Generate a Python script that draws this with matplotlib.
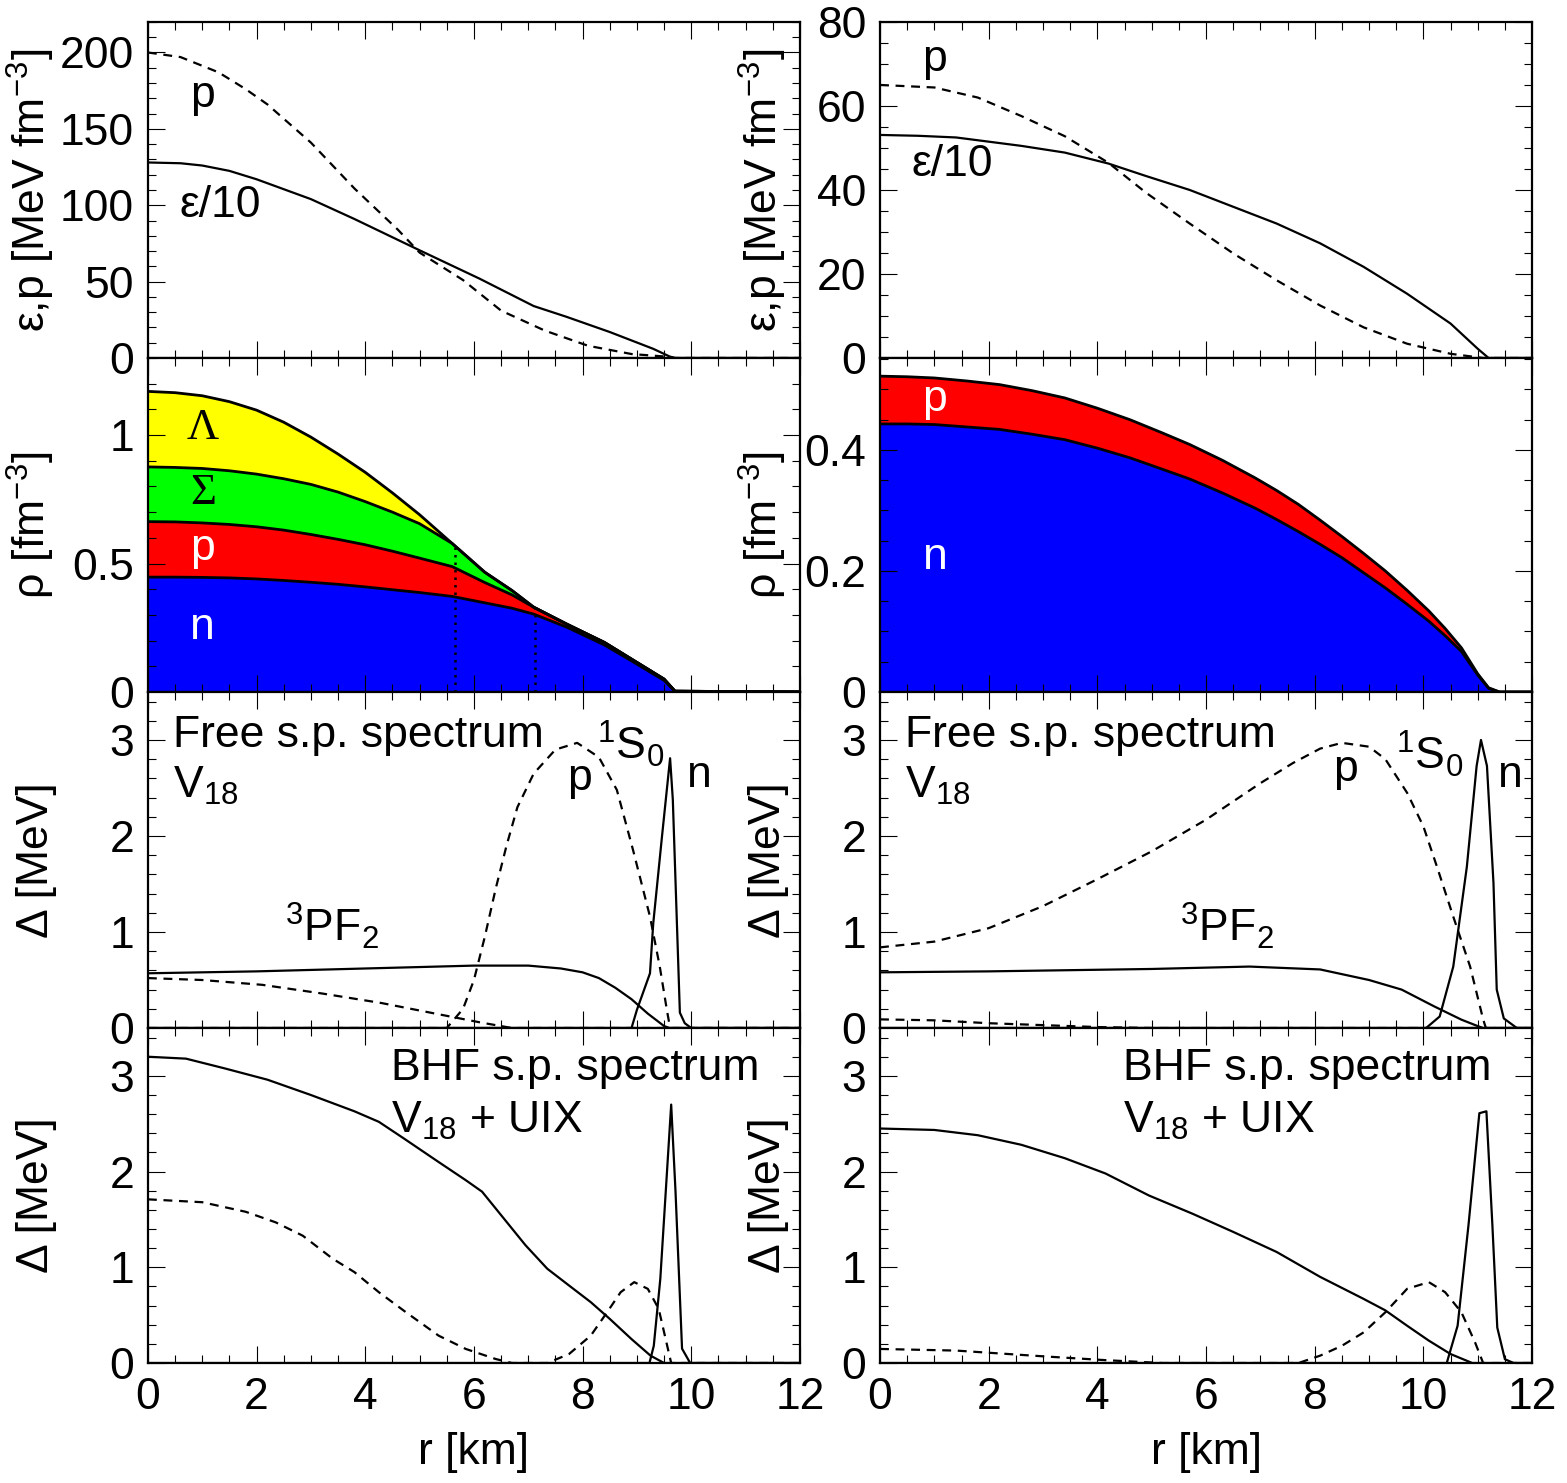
import numpy as np
import matplotlib.pyplot as plt
from matplotlib.ticker import MultipleLocator, FormatStrFormatter

plt.rcParams['font.family'] = ['Liberation Sans', 'DejaVu Sans']
plt.rcParams['mathtext.fontset'] = 'custom'
plt.rcParams['mathtext.rm'] = 'Liberation Sans'
plt.rcParams['mathtext.default'] = 'regular'

FS = 32
DASH = (0, (4, 3))

# ---- row 1: energy density / pressure ----
r_eps_L = [0, 0.6, 1.0, 1.5, 2.0, 3.0, 3.8, 5.0, 6.1, 7.1, 7.7, 8.5, 9.3, 9.6, 9.7, 12]
eps_L = [128, 127.5, 126, 122.5, 117, 104, 91, 70.5, 52, 34, 27, 17, 6, 1, 0, 0]
r_p_L = [0, 0.6, 1.3, 1.8, 2.2, 3.0, 3.8, 4.6, 5.0, 5.8, 6.5, 7.3, 8.1, 8.9, 9.5, 9.7, 12]
p_L = [200, 197, 187, 176, 166, 141, 111, 84, 69, 51, 31, 18, 8, 2.6, 1, 0, 0]

r_eps_R = [0, 0.7, 1.4, 2.6, 3.4, 4.2, 4.9, 5.7, 6.5, 7.3, 8.1, 8.9, 9.7, 10.5, 11.0, 11.2, 12]
eps_R = [53.1, 52.9, 52.5, 50.5, 48.9, 46.3, 43.3, 40, 36, 32, 27.3, 21.7, 15.3, 8.2, 2.2, 0, 0]
r_p_R = [0, 1.0, 1.8, 2.6, 3.4, 4.2, 4.9, 5.7, 6.5, 7.3, 8.1, 8.9, 9.7, 10.5, 11.1, 12]
p_R = [65, 64.4, 62, 57.6, 52.8, 46.5, 39.3, 32, 24.9, 18.5, 12.5, 7.3, 3.4, 1, 0, 0]

# ---- row 2: stacked densities ----
r_rho_L = [0, 0.5, 1, 1.5, 2, 2.5, 3, 3.5, 4, 4.5, 5, 5.6, 6.2, 6.7, 7.1, 7.7, 8.4, 8.9, 9.3, 9.5, 9.7, 12]
rho_tot_L = [1.17, 1.165, 1.153, 1.13, 1.097, 1.05, 0.992, 0.926, 0.855, 0.775, 0.69, 0.578, 0.466, 0.395,
             0.33, 0.265, 0.193, 0.128, 0.076, 0.05, 0.003, 0]
rho_nps_L = [0.876, 0.874, 0.870, 0.861, 0.848, 0.83, 0.808, 0.778, 0.741, 0.70, 0.655, 0.578, 0.466, 0.395,
             0.33, 0.265, 0.193, 0.128, 0.076, 0.05, 0.003, 0]
rho_np_L = [0.663, 0.662, 0.658, 0.652, 0.643, 0.63, 0.613, 0.594, 0.573, 0.548, 0.521, 0.488, 0.426, 0.378,
            0.33, 0.265, 0.193, 0.128, 0.076, 0.05, 0.003, 0]
rho_n_L = [0.447, 0.447, 0.446, 0.444, 0.440, 0.434, 0.427, 0.419, 0.409, 0.398, 0.387, 0.372, 0.347, 0.326,
           0.303, 0.253, 0.183, 0.121, 0.07, 0.045, 0.003, 0]
thresholds_L = [5.65, 7.12]

r_rho_R = [0, 0.5, 1, 1.6, 2.2, 2.8, 3.4, 4.0, 4.6, 5.2, 5.7, 6.3, 6.9, 7.3, 7.7, 8.1, 8.5, 8.9, 9.3, 9.7,
           10.1, 10.4, 10.7, 11.0, 11.2, 11.4, 12]
rho_tot_R = [0.522, 0.521, 0.519, 0.514, 0.508, 0.498, 0.486, 0.469, 0.45, 0.428, 0.409, 0.383, 0.354, 0.333,
             0.31, 0.284, 0.257, 0.229, 0.2, 0.168, 0.134, 0.105, 0.073, 0.03, 0.007, 0, 0]
rho_n_R = [0.443, 0.443, 0.442, 0.438, 0.434, 0.426, 0.417, 0.403, 0.387, 0.368, 0.352, 0.329, 0.304, 0.285,
           0.265, 0.244, 0.222, 0.197, 0.172, 0.145, 0.117, 0.093, 0.067, 0.028, 0.006, 0, 0]

# ---- row 3: gaps, free s.p. spectrum ----
r_s0p_L = [0, 5.5, 5.8, 6.0, 6.2, 6.4, 6.6, 6.8, 7.1, 7.5, 7.9, 8.3, 8.63, 8.93, 9.24, 9.42, 9.55, 9.61, 12]
s0p_L = [0, 0, 0.2, 0.5, 0.95, 1.45, 1.9, 2.3, 2.65, 2.9, 2.97, 2.82, 2.48, 1.85, 1.16, 0.64, 0.19, 0, 0]
r_pfp_L = [0, 1.0, 2.1, 3.2, 4.3, 5.2, 6.1, 6.7, 12]
pfp_L = [0.52, 0.50, 0.45, 0.36, 0.26, 0.16, 0.06, 0, 0]
r_pfn_L = [0, 2, 4, 6, 7.0, 7.6, 8.0, 8.3, 8.6, 8.9, 9.2, 9.5, 9.6, 12]
pfn_L = [0.57, 0.59, 0.62, 0.65, 0.65, 0.62, 0.58, 0.52, 0.42, 0.30, 0.15, 0.02, 0, 0]
r_s0n_L = [0, 8.9, 9.0, 9.24, 9.3, 9.46, 9.61, 9.66, 9.79, 9.88, 10.0, 12]
s0n_L = [0, 0, 0.19, 0.57, 1.09, 1.99, 2.81, 2.38, 0.16, 0.05, 0, 0]

r_s0p_R = [0, 1, 2, 3, 4, 5, 6, 7, 7.6, 8.1, 8.5, 9.0, 9.3, 9.7, 10.0, 10.25, 10.55, 10.86, 11.1, 11.15, 12]
s0p_R = [0.84, 0.9, 1.04, 1.27, 1.55, 1.84, 2.17, 2.55, 2.76, 2.91, 2.97, 2.93, 2.80, 2.45, 2.1, 1.68, 1.16,
         0.64, 0.09, 0, 0]
r_pfp_R = [0, 1, 2, 3, 4, 5, 12]
pfp_R = [0.09, 0.08, 0.05, 0.03, 0.01, 0, 0]
r_pfn_R = [0, 2, 5.0, 6.8, 8.1, 9.0, 9.6, 10.2, 10.7, 11.0, 11.1, 12]
pfn_R = [0.58, 0.59, 0.615, 0.64, 0.61, 0.50, 0.40, 0.225, 0.087, 0.02, 0, 0]
r_s0n_R = [0, 10.05, 10.3, 10.55, 10.8, 10.98, 11.06, 11.17, 11.29, 11.35, 11.48, 11.72, 12]
s0n_R = [0, 0, 0.12, 0.64, 1.68, 2.73, 3.0, 2.73, 1.51, 0.40, 0.10, 0, 0]

# ---- row 4: gaps, BHF s.p. spectrum ----
r_pfn4_L = [0, 0.7, 1.4, 2.2, 3.0, 3.8, 4.25, 4.7, 5.35, 5.85, 6.15, 6.55, 6.95, 7.35, 7.75, 8.15, 8.5,
            8.9, 9.25, 9.5, 12]
pfn4_L = [3.2, 3.18, 3.08, 2.96, 2.80, 2.63, 2.52, 2.35, 2.10, 1.91, 1.79, 1.51, 1.23, 0.985, 0.81, 0.636,
          0.461, 0.25, 0.077, 0, 0]
r_pfp4_L = [0, 1.0, 1.8, 2.35, 2.85, 3.4, 3.8, 4.25, 4.75, 5.35, 5.85, 6.4, 6.7, 7.35, 7.75, 8.15, 8.45,
            8.7, 8.95, 9.2, 9.4, 9.5, 9.63, 12]
pfp4_L = [1.71, 1.68, 1.58, 1.47, 1.33, 1.09, 0.95, 0.74, 0.53, 0.286, 0.147, 0.042, 0, 0, 0.094, 0.286,
          0.53, 0.74, 0.845, 0.775, 0.566, 0.32, 0, 0]
r_s0n4_L = [0, 9.23, 9.31, 9.43, 9.63, 9.71, 9.83, 9.98, 12]
s0n4_L = [0, 0, 0.18, 0.88, 2.70, 1.79, 0.15, 0, 0]

r_pfn4_R = [0, 1.0, 1.8, 2.6, 3.4, 4.15, 4.95, 5.75, 6.5, 7.3, 8.1, 8.9, 9.3, 9.7, 10.1, 10.5, 10.9, 12]
pfn4_R = [2.45, 2.435, 2.38, 2.28, 2.14, 1.98, 1.75, 1.56, 1.37, 1.16, 0.90, 0.67, 0.55, 0.39, 0.234,
          0.094, 0, 0]
r_pfp4_R = [0, 1.4, 3.0, 4.15, 4.95, 5.2, 7.7, 8.1, 8.5, 8.9, 9.3, 9.7, 10.1, 10.4, 10.7, 10.95, 11.1, 12]
pfp4_R = [0.147, 0.13, 0.07, 0.03, 0.007, 0, 0, 0.077, 0.18, 0.32, 0.53, 0.775, 0.845, 0.74, 0.53, 0.217,
          0, 0]
r_s0n4_R = [0, 10.43, 10.63, 10.83, 11.03, 11.16, 11.27, 11.36, 11.5, 11.66, 12]
s0n4_R = [0, 0, 0.39, 1.44, 2.61, 2.63, 1.44, 0.37, 0.04, 0, 0]

ylims = [(220, 80), (1.3, 0.552), (3.5, 3.5), (3.5, 3.5)]
ymajor = [(50, 20), (0.5, 0.2), (1, 1), (1, 1)]
yminor = [(10, 5), (0.1, 0.05), (0.2, 0.2), (0.2, 0.2)]
ylabels = ['ε,p [MeV fm$^{-3}$]', 'ρ [fm$^{-3}$]', 'Δ [MeV]', 'Δ [MeV]']

fig = plt.figure(figsize=(15.67, 14.83), dpi=100)
lefts = [0.0944, 0.5616]
width = 0.4161
bottoms = [0.7586, 0.5334, 0.3068, 0.0809]
heights = [0.2266, 0.2252, 0.2266, 0.2259]

axes = [[None, None] for _ in range(4)]
for i in range(4):
    for j in range(2):
        ax = fig.add_axes([lefts[j], bottoms[i], width, heights[i]])
        ax.set_xlim(0, 12)
        ax.set_ylim(0, ylims[i][j])
        ax.xaxis.set_major_locator(MultipleLocator(2))
        ax.xaxis.set_minor_locator(MultipleLocator(0.5))
        ax.yaxis.set_major_locator(MultipleLocator(ymajor[i][j]))
        ax.yaxis.set_minor_locator(MultipleLocator(yminor[i][j]))
        ax.yaxis.set_major_formatter(FormatStrFormatter('%g'))
        ax.tick_params(which='both', direction='in', top=True, right=True,
                       labelsize=FS, width=0.8)
        ax.tick_params(which='major', length=12, pad=10)
        ax.tick_params(which='minor', length=6)
        for s in ax.spines.values():
            s.set_linewidth(1.6)
        ax.set_ylabel(ylabels[i], fontsize=FS)
        ax.yaxis.set_label_coords(-0.14, 0.5)
        if i < 3:
            ax.tick_params(labelbottom=False)
        else:
            ax.set_xlabel('r [km]', fontsize=FS)
            ax.xaxis.set_label_coords(0.5, -0.205)
        axes[i][j] = ax

lw = 1.6
k = dict(color='black', lw=lw)

# row 1
ax = axes[0][0]
ax.plot(r_eps_L, eps_L, **k)
ax.plot(r_p_L, p_L, ls=DASH, **k)
ax.text(1.01, 172, 'p', fontsize=FS, ha='center', va='center')
ax.text(1.33, 100, 'ε/10', fontsize=FS, ha='center', va='center')
ax = axes[0][1]
ax.plot(r_eps_R, eps_R, **k)
ax.plot(r_p_R, p_R, ls=DASH, **k)
ax.text(1.01, 71, 'p', fontsize=FS, ha='center', va='center')
ax.text(1.33, 46, 'ε/10', fontsize=FS, ha='center', va='center')

# row 2
ax = axes[1][0]
for y, c in [(rho_tot_L, '#ffff00'), (rho_nps_L, '#00ff00'), (rho_np_L, '#ff0000'), (rho_n_L, '#0000ff')]:
    ax.fill_between(r_rho_L, 0, y, color=c, lw=0)
for y in [rho_tot_L, rho_nps_L, rho_np_L, rho_n_L]:
    ax.plot(r_rho_L, y, color='black', lw=2)
for t in thresholds_L:
    ax.vlines(t, 0, np.interp(t, r_rho_L, rho_tot_L), colors='black', linestyles=(0, (1, 2)), lw=1.8)
ax.text(1.01, 1.027, 'Λ', fontsize=FS, ha='center', va='center', family='Liberation Serif')
ax.text(1.01, 0.774, 'Σ', fontsize=FS, ha='center', va='center', family='Liberation Serif')
ax.text(1.01, 0.56, 'p', fontsize=FS, ha='center', va='center', color='white')
ax.text(1.01, 0.249, 'n', fontsize=FS, ha='center', va='center', color='white')
ax = axes[1][1]
for y, c in [(rho_tot_R, '#ff0000'), (rho_n_R, '#0000ff')]:
    ax.fill_between(r_rho_R, 0, y, color=c, lw=0)
for y in [rho_tot_R, rho_n_R]:
    ax.plot(r_rho_R, y, color='black', lw=2)
ax.text(1.01, 0.483, 'p', fontsize=FS, ha='center', va='center', color='white')
ax.text(1.01, 0.223, 'n', fontsize=FS, ha='center', va='center', color='white')

# row 3
ax = axes[2][0]
ax.plot(r_s0p_L, s0p_L, ls=DASH, **k)
ax.plot(r_pfp_L, pfp_L, ls=DASH, **k)
ax.plot(r_pfn_L, pfn_L, **k)
ax.plot(r_s0n_L, s0n_L, **k)
ax.text(0.46, 2.93, 'Free s.p. spectrum', fontsize=FS, ha='left', va='baseline')
ax.text(0.46, 2.40, 'V$_{18}$', fontsize=FS, ha='left', va='baseline')
ax.text(2.52, 0.90, '$^{3}$PF$_{2}$', fontsize=FS, ha='left', va='baseline')
ax.text(8.26, 2.80, '$^{1}$S$_{0}$', fontsize=FS, ha='left', va='baseline')
ax.text(7.95, 2.48, 'p', fontsize=FS, ha='center', va='baseline')
ax.text(10.14, 2.51, 'n', fontsize=FS, ha='center', va='baseline')
ax = axes[2][1]
ax.plot(r_s0p_R, s0p_R, ls=DASH, **k)
ax.plot(r_pfp_R, pfp_R, ls=DASH, **k)
ax.plot(r_pfn_R, pfn_R, **k)
ax.plot(r_s0n_R, s0n_R, **k)
ax.text(0.46, 2.93, 'Free s.p. spectrum', fontsize=FS, ha='left', va='baseline')
ax.text(0.46, 2.40, 'V$_{18}$', fontsize=FS, ha='left', va='baseline')
ax.text(5.52, 0.90, '$^{3}$PF$_{2}$', fontsize=FS, ha='left', va='baseline')
ax.text(9.49, 2.69, '$^{1}$S$_{0}$', fontsize=FS, ha='left', va='baseline')
ax.text(8.56, 2.57, 'p', fontsize=FS, ha='center', va='baseline')
ax.text(11.61, 2.51, 'n', fontsize=FS, ha='center', va='baseline')

# row 4
for j, (rn, n, rp, p, rs, s) in enumerate([
        (r_pfn4_L, pfn4_L, r_pfp4_L, pfp4_L, r_s0n4_L, s0n4_L),
        (r_pfn4_R, pfn4_R, r_pfp4_R, pfp4_R, r_s0n4_R, s0n4_R)]):
    ax = axes[3][j]
    ax.plot(rn, n, **k)
    ax.plot(rp, p, ls=DASH, **k)
    ax.plot(rs, s, **k)
    ax.text(4.47, 2.96, 'BHF s.p. spectrum', fontsize=FS, ha='left', va='baseline')
    ax.text(4.47, 2.41, 'V$_{18}$ + UIX', fontsize=FS, ha='left', va='baseline')

fig.savefig('out.png', dpi=100)
